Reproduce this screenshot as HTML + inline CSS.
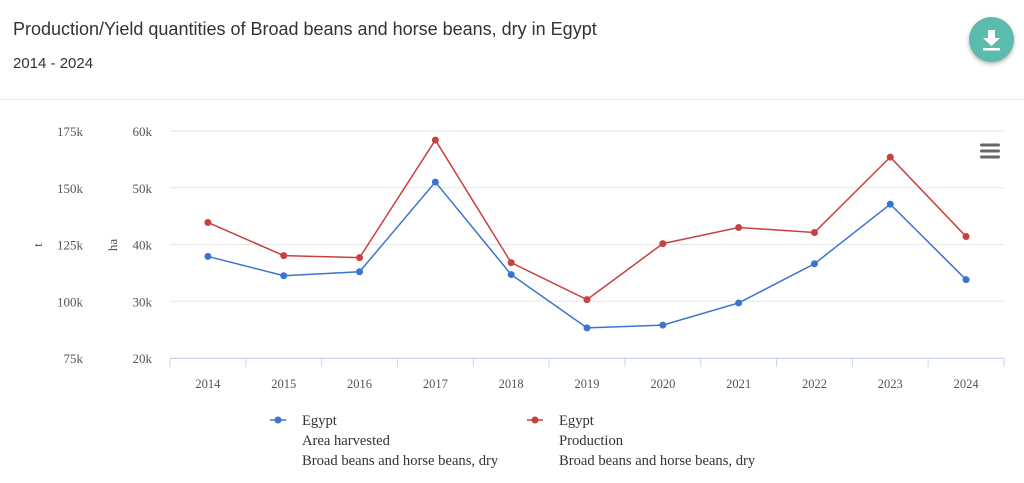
<!DOCTYPE html>
<html><head><meta charset="utf-8"><style>
body{margin:0;background:#fff;width:1024px;height:483px;overflow:hidden;font-family:"Liberation Sans",sans-serif}
#title{position:absolute;left:13px;top:19px;font-size:18px;color:#333}
#sub{position:absolute;left:13px;top:55px;font-size:15px;color:#333}
#hr{position:absolute;left:0;top:99px;width:1024px;height:1px;background:#e6e6e6}
#dl{position:absolute;left:969px;top:17px;width:45px;height:45px;border-radius:50%;background:#5bbcad;box-shadow:0 2px 4px rgba(0,0,0,.3)}
</style></head><body>
<div id="title">Production/Yield quantities of Broad beans and horse beans, dry in Egypt</div>
<div id="sub">2014 - 2024</div>
<div id="hr"></div>
<div id="dl"><svg width="45" height="45"><path d="M19 13h7v8h5l-8.5 8-8.5-8h5z" fill="#fff"/><rect x="14" y="31" width="17" height="2.5" fill="#fff"/></svg></div>
<svg id="chart" width="1024" height="483" style="position:absolute;left:0;top:0" font-family="Liberation Serif,serif"></svg>
<script>
const years=["2014","2015","2016","2017","2018","2019","2020","2021","2022","2023","2024"];
const area=[37900,34500,35200,51000,34700,25300,25800,29700,36600,47100,33800];
const prod=[134700,120100,119200,171000,117000,100700,125400,132500,130300,163500,128500];
const haTicks=[20000,30000,40000,50000,60000];
const tTicks=[75000,100000,125000,150000,175000];
const NS="http://www.w3.org/2000/svg",svg=document.getElementById('chart');
const L=170,R=1004,T=131,B=358,step=(R-L)/years.length;
const x=i=>L+step*(i+0.5);
const yHa=v=>B-(v-20000)/40000*(B-T);
const yT=v=>B-(v-75000)/100000*(B-T);
function el(t,a,p){const e=document.createElementNS(NS,t);for(const k in a)e.setAttribute(k,a[k]);(p||svg).appendChild(e);return e;}
haTicks.forEach((v,i)=>{
 const g=el('line',{x1:L,x2:R,y1:yHa(v),y2:yHa(v),stroke:'#e6e6e6'});
 
 const a=el('text',{x:152,y:yHa(v)+5,'text-anchor':'end','font-size':13,fill:'#555'});a.textContent=(v/1000)+'k';
 
 const b=el('text',{x:83,y:yT(tTicks[i])+5,'text-anchor':'end','font-size':13,fill:'#555'});b.textContent=(tTicks[i]/1000)+'k';
 
});
const at=el('text',{x:0,y:0,transform:'translate(42,245) rotate(-90)','text-anchor':'middle','font-size':13,fill:'#555'});at.textContent='t';

const ah=el('text',{x:0,y:0,transform:'translate(117,245) rotate(-90)','text-anchor':'middle','font-size':13,fill:'#555'});ah.textContent='ha';

const xa=el('line',{x1:L,x2:R,y1:B+0.5,y2:B+0.5,stroke:'#ccd6eb'});

for(let i=0;i<=years.length;i++){const t=el('line',{x1:L+step*i,x2:L+step*i,y1:B,y2:B+9,stroke:'#ccd6eb'});}
years.forEach((y,i)=>{const t=el('text',{x:x(i),y:388,'text-anchor':'middle','font-size':12.5,fill:'#555'});t.textContent=y;});
function series(vals,fy,col,name){
 const p=el('polyline',{points:vals.map((v,i)=>x(i)+','+fy(v)).join(' '),fill:'none',stroke:col,'stroke-width':1.5});
 
 vals.forEach((v,i)=>{const c=el('circle',{cx:x(i),cy:fy(v),r:3.5,fill:col});});
}
series(prod,yT,'#c94040','production');
series(area,yHa,'#3b73d1','area-harvested');
[145,151,157].forEach(yy=>{const m=el('rect',{x:980,y:yy-1.5,width:20,height:3,rx:1.5,fill:'#666'});});
function legend(x0,col,lines,name){
 const g=el('g',{});
 el('line',{x1:x0,x2:x0+16,y1:420,y2:420,stroke:col,'stroke-width':1.5},g);
 el('circle',{cx:x0+8,cy:420,r:3.5,fill:col},g);
 lines.forEach((s,i)=>{const t=el('text',{x:x0+32,y:425+i*20,'font-size':14.6,fill:'#333'},g);t.textContent=s;});
}
legend(270,'#3b73d1',['Egypt','Area harvested','Broad beans and horse beans, dry'],'legend-area-harvested');
legend(527,'#c94040',['Egypt','Production','Broad beans and horse beans, dry'],'legend-production');
</script>
</body></html>
